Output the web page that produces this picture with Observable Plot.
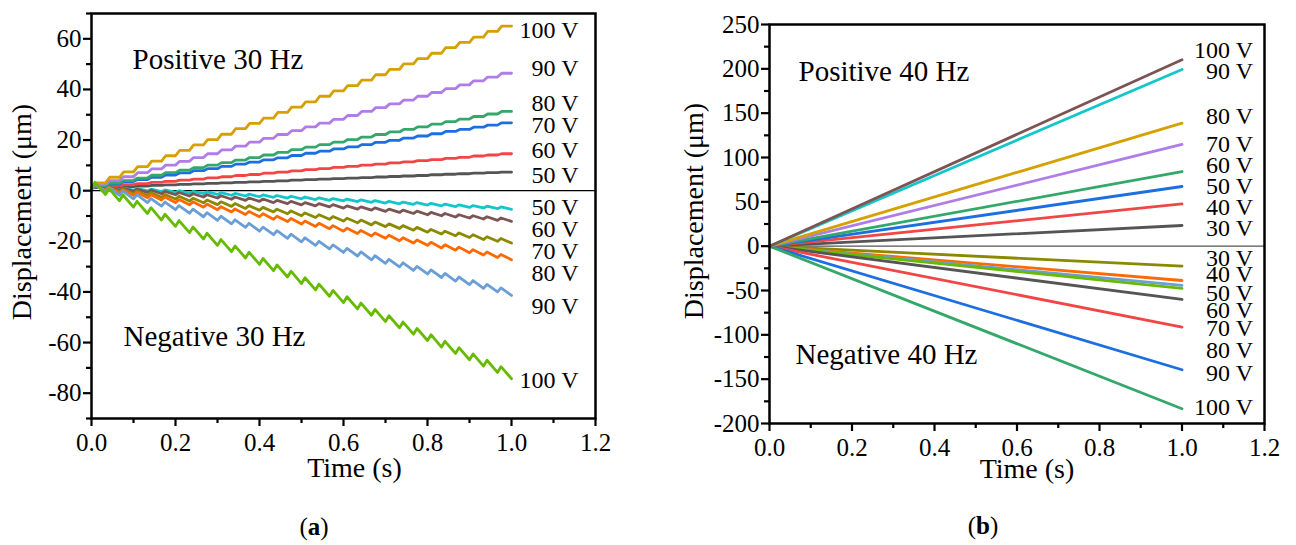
<!DOCTYPE html>
<html>
<head>
<meta charset="utf-8">
<script src="https://cdn.jsdelivr.net/npm/d3@7"></script>
<script src="https://cdn.jsdelivr.net/npm/@observablehq/plot@0.6"></script>
<style>
  html, body { margin: 0; padding: 0; background: #fff; }
  #wrap { position: relative; width: 1296px; height: 545px; font-family: "Liberation Serif", "Times New Roman", serif; color: #000; overflow: hidden; }
  #wrap svg, #wrap svg text { font-family: "Liberation Serif", "Times New Roman", serif !important; }
  #pa { position: absolute; left: 0; top: 0; }
  #pb { position: absolute; left: 640px; top: 0; }
  .cap { position: absolute; font-size: 25px; line-height: 25px; width: 60px; text-align: center; }
</style>
</head>
<body>
<div id="wrap">
  <div id="pa"></div>
  <div id="pb"></div>
  <div class="cap" style="left:284px; top:514px;">(<b>a</b>)</div>
  <div class="cap" style="left:953px; top:513px;">(<b>b</b>)</div>
</div>
<script>
// ---------------- DATA: panel (a), 30 Hz, one value per drive cycle ----------------
const freqA = 30;
const voltsA = ["50 V", "60 V", "70 V", "80 V", "90 V", "100 V"];
// positive direction: plateau level after each cycle (µm)
const posA50  = [1.0,1.2,1.4,1.6,1.8,2.1,2.3,2.5,2.7,2.9,3.1,3.3,3.5,3.7,3.9,4.2,4.4,4.6,4.8,5.0,5.2,5.4,5.6,5.8,6.0,6.3,6.5,6.7,6.9,7.1,7.3];
const posA60  = [1.0,1.5,1.9,2.4,2.8,3.3,3.7,4.2,4.6,5.1,5.5,6.0,6.4,6.9,7.3,7.8,8.3,8.7,9.2,9.6,10.1,10.5,11.0,11.4,11.9,12.3,12.8,13.2,13.7,14.1,14.6];
const posA70  = [1.0,1.9,2.7,3.6,4.4,5.3,6.2,7.0,7.9,8.7,9.6,10.5,11.3,12.2,13.0,13.9,14.8,15.6,16.5,17.3,18.2,19.1,19.9,20.8,21.6,22.5,23.4,24.2,25.1,25.9,26.8];
const posA80  = [1.0,2.0,3.0,4.0,5.0,6.1,7.1,8.1,9.1,10.1,11.1,12.1,13.1,14.1,15.1,16.2,17.2,18.2,19.2,20.2,21.2,22.2,23.2,24.2,25.2,26.3,27.3,28.3,29.3,30.3,31.3];
const posA90  = [1.0,2.5,4.0,5.5,7.1,8.6,10.1,11.6,13.1,14.6,16.1,17.6,19.2,20.7,22.2,23.7,25.2,26.7,28.2,29.7,31.3,32.8,34.3,35.8,37.3,38.8,40.3,41.8,43.4,44.9,46.4];
const posA100 = [1.0,3.1,5.3,7.4,9.5,11.7,13.8,15.9,18.1,20.2,22.3,24.5,26.6,28.7,30.9,33.0,35.1,37.3,39.4,41.5,43.7,45.8,47.9,50.1,52.2,54.3,56.5,58.6,60.7,62.9,65.0];
// negative direction: trough level after each cycle (µm) and rebound within a cycle (µm)
const negA50  = [1.0,0.7,0.4,0.2,-0.1,-0.4,-0.7,-1.0,-1.2,-1.5,-1.8,-2.1,-2.4,-2.6,-2.9,-3.2,-3.5,-3.8,-4.0,-4.3,-4.6,-4.9,-5.2,-5.4,-5.7,-6.0,-6.3,-6.6,-6.8,-7.1,-7.4];
const negA60  = [1.0,0.6,0.1,-0.3,-0.7,-1.2,-1.6,-2.1,-2.5,-2.9,-3.4,-3.8,-4.2,-4.7,-5.1,-5.6,-6.0,-6.4,-6.9,-7.3,-7.7,-8.2,-8.6,-9.0,-9.5,-9.9,-10.4,-10.8,-11.2,-11.7,-12.1];
const negA70  = [1.0,0.3,-0.4,-1.2,-1.9,-2.6,-3.3,-4.1,-4.8,-5.5,-6.2,-7.0,-7.7,-8.4,-9.1,-9.9,-10.6,-11.3,-12.0,-12.7,-13.5,-14.2,-14.9,-15.6,-16.4,-17.1,-17.8,-18.5,-19.3,-20.0,-20.7];
const negA80  = [1.0,0.1,-0.9,-1.8,-2.8,-3.7,-4.7,-5.6,-6.5,-7.5,-8.4,-9.4,-10.3,-11.3,-12.2,-13.2,-14.1,-15.0,-16.0,-16.9,-17.9,-18.8,-19.8,-20.7,-21.6,-22.6,-23.5,-24.5,-25.4,-26.4,-27.3];
const negA90  = [1.0,-0.4,-1.8,-3.2,-4.7,-6.1,-7.5,-8.9,-10.3,-11.7,-13.1,-14.5,-16.0,-17.4,-18.8,-20.2,-21.6,-23.0,-24.4,-25.8,-27.3,-28.7,-30.1,-31.5,-32.9,-34.3,-35.7,-37.1,-38.6,-40.0,-41.4];
const negA100 = [1.0,-1.5,-4.0,-6.5,-9.0,-11.6,-14.1,-16.6,-19.1,-21.6,-24.1,-26.6,-29.1,-31.6,-34.1,-36.7,-39.2,-41.7,-44.2,-46.7,-49.2,-51.7,-54.2,-56.7,-59.2,-61.8,-64.3,-66.8,-69.3,-71.8,-74.3];
const reboundA = [0.7, 0.9, 1.1, 1.2, 1.6, 2.3]; // 50..100 V

// ---------------- DATA: panel (b), 40 Hz, straight runs ----------------
const voltsB = ["30 V", "40 V", "50 V", "60 V", "70 V", "80 V", "90 V", "100 V"];
const timeB = [0, 1.0];
const posBEnd = [23.3, 47.8, 67.3, 84.2, 114.7, 138.7, 199.3, 210.2];
const negBEnd = [-22.6, -38.7, -44.3, -47.7, -60.1, -91.3, -139.4, -183.4];

// ---------------- tick values ----------------
const xTicks = [0, 0.2, 0.4, 0.6, 0.8, 1.0, 1.2];
const xMinor = [0.1, 0.3, 0.5, 0.7, 0.9, 1.1];
const yTicksA = [-80, -60, -40, -20, 0, 20, 40, 60];
const yMinorA = [-90, -70, -50, -30, -10, 10, 30, 50, 70];
const yTicksB = [-200, -150, -100, -50, 0, 50, 100, 150, 200, 250];
const yMinorB = [-175, -125, -75, -25, 25, 75, 125, 175, 225];

// ---------------- STYLE / LAYOUT ----------------
const colPosA = ["#555555", "#F24545", "#1C6FE0", "#34A86A", "#B07CE8", "#D5A100"];
const colNegA = ["#12C6C9", "#7D5454", "#8A8A00", "#FF6A00", "#6A9ED6", "#66BB00"];
const colPosB = ["#555555", "#F24545", "#1C6FE0", "#34A86A", "#B07CE8", "#D5A100", "#12C6C9", "#7D5454"];
const colNegB = ["#8A8A00", "#FF6A00", "#6A9ED6", "#66BB00", "#555555", "#F24545", "#1C6FE0", "#34A86A"];
const labelPosA = [6.0, 15.9, 25.8, 34.7, 48.2, 63.3];
const labelNegA = [-6.5, -15.3, -24.0, -32.7, -45.6, -75.0];
const labelPosB = [20.0, 44.1, 67.8, 91.0, 114.7, 145.9, 196.7, 221.2];
const labelNegB = [-13.3, -31.9, -52.8, -72.1, -92.5, -117.6, -143.6, -181.6];
const FONT = '"Liberation Serif", "Times New Roman", serif';

// stairs: quick rise at the start of each cycle, then a plateau
function stairRows(vals, freq, riseFrac) {
  const T = 1 / freq, rows = [];
  for (let k = 0; k < vals.length - 1; k++) {
    rows.push({t: k * T, d: vals[k]});
    rows.push({t: k * T + riseFrac * T, d: vals[k + 1]});
  }
  rows.push({t: (vals.length - 1) * T, d: vals[vals.length - 1]});
  return rows;
}
// sawtooth: short rebound then a long drop to the next trough
function sawRows(troughs, rebound, freq, riseFrac) {
  const T = 1 / freq, rows = [];
  for (let k = 0; k < troughs.length - 1; k++) {
    rows.push({t: k * T, d: troughs[k]});
    rows.push({t: k * T + riseFrac * T, d: troughs[k] + rebound});
  }
  rows.push({t: (troughs.length - 1) * T, d: troughs[troughs.length - 1]});
  return rows;
}

function axes(yTicks, yMinor) {
  return [
    Plot.axisX(xTicks, {tickSize: 8, tickPadding: 7, strokeWidth: 2.2, tickFormat: d3.format(".1f"), fontSize: 25, label: null}),
    Plot.axisX(xMinor, {tickSize: 5, strokeWidth: 2.2, tickFormat: () => "", label: null}),
    Plot.axisY(yTicks, {tickSize: 8, tickPadding: 2, strokeWidth: 2.2, tickFormat: d => String(d), fontSize: 25, label: null}),
    Plot.axisY(yMinor, {tickSize: 5, strokeWidth: 2.2, tickFormat: () => "", label: null})
  ];
}
const T28 = {fontSize: 28, fill: "#000", lineAnchor: "middle"};
const T29 = {fontSize: 29, fill: "#000", lineAnchor: "middle"};

// ---------------- panel (a) ----------------
const posA = [posA50, posA60, posA70, posA80, posA90, posA100];
const negA = [negA50, negA60, negA70, negA80, negA90, negA100];
const marksA = [
  Plot.ruleY([0], {stroke: "#000", strokeWidth: 1.2}),
  ...posA.map((s, i) => Plot.line(stairRows(s, freqA, 0.3), {x: "t", y: "d", stroke: colPosA[i], strokeWidth: 2.8})),
  ...negA.map((s, i) => Plot.line(sawRows(s, reboundA[i], freqA, 0.25), {x: "t", y: "d", stroke: colNegA[i], strokeWidth: 2.8})),
  Plot.text(voltsA.map((v, i) => ({t: 1.0, y: labelPosA[i], v})), {x: "t", y: "y", text: "v", textAnchor: "end", dx: 67, fontSize: 24, fill: "#000"}),
  Plot.text(voltsA.map((v, i) => ({t: 1.0, y: labelNegA[i], v})), {x: "t", y: "y", text: "v", textAnchor: "end", dx: 67, fontSize: 24, fill: "#000"}),
  Plot.text(["Positive 30 Hz"], {...T29, frameAnchor: "top-left", textAnchor: "start", dx: 41, dy: 46}),
  Plot.text(["Negative 30 Hz"], {...T29, frameAnchor: "bottom-left", textAnchor: "start", dx: 32, dy: -82}),
  Plot.text(["Time (s)"], {...T28, frameAnchor: "bottom", textAnchor: "middle", dx: 11, dy: 50}),
  Plot.text(["Displacement (μm)"], {...T28, frameAnchor: "left", textAnchor: "middle", rotate: -90, dx: -69, dy: -4}),
  ...axes(yTicksA, yMinorA),
  Plot.frame({stroke: "#000", strokeWidth: 2.5})
];
const plotA = Plot.plot({
  width: 640, height: 495,
  marginLeft: 91, marginRight: 45, marginTop: 13, marginBottom: 77,
  x: {domain: [0, 1.2]},
  y: {domain: [-90, 70]},
  style: {fontFamily: FONT, fontSize: "25px", color: "#000", background: "transparent", overflow: "visible"},
  marks: marksA
});
document.getElementById("pa").append(plotA);

// ---------------- panel (b) ----------------
const marksB = [
  Plot.ruleY([0], {stroke: "#555", strokeWidth: 1.2}),
  ...voltsB.map((v, i) => Plot.line(timeB.map((t, j) => ({t, d: j === 0 ? 0 : negBEnd[i]})), {x: "t", y: "d", stroke: colNegB[i], strokeWidth: 2.8})),
  ...voltsB.map((v, i) => Plot.line(timeB.map((t, j) => ({t, d: j === 0 ? 0 : posBEnd[i]})), {x: "t", y: "d", stroke: colPosB[i], strokeWidth: 2.8})),
  Plot.text(voltsB.map((v, i) => ({t: 1.0, y: labelPosB[i], v})), {x: "t", y: "y", text: "v", textAnchor: "end", dx: 71, fontSize: 24, fill: "#000"}),
  Plot.text(voltsB.map((v, i) => ({t: 1.0, y: labelNegB[i], v})), {x: "t", y: "y", text: "v", textAnchor: "end", dx: 71, fontSize: 24, fill: "#000"}),
  Plot.text(["Positive 40 Hz"], {...T29, frameAnchor: "top-left", textAnchor: "start", dx: 29, dy: 47}),
  Plot.text(["Negative 40 Hz"], {...T29, frameAnchor: "bottom-left", textAnchor: "start", dx: 26, dy: -69}),
  Plot.text(["Time (s)"], {...T28, frameAnchor: "bottom", textAnchor: "middle", dx: 10, dy: 46}),
  Plot.text(["Displacement (μm)"], {...T28, frameAnchor: "left", textAnchor: "middle", rotate: -90, dx: -75, dy: -13}),
  ...axes(yTicksB, yMinorB),
  Plot.frame({stroke: "#000", strokeWidth: 2.5})
];
const plotB = Plot.plot({
  width: 656, height: 495,
  marginLeft: 129, marginRight: 32, marginTop: 24, marginBottom: 72,
  x: {domain: [0, 1.2]},
  y: {domain: [-200, 250]},
  style: {fontFamily: FONT, fontSize: "25px", color: "#000", background: "transparent", overflow: "visible"},
  marks: marksB
});
document.getElementById("pb").append(plotB);
</script>
</body>
</html>
